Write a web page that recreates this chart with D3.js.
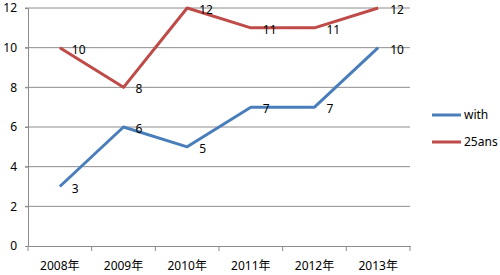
<!DOCTYPE html>
<html>
<head>
<meta charset="utf-8">
<title>line chart</title>
<script src="https://cdn.jsdelivr.net/npm/d3@7"></script>
<style>
  body { margin: 0; background: #fff; }
  text { font-family: "Noto Sans", "Noto Sans CJK SC", sans-serif; font-size: 12px; fill: #000; }
</style>
</head>
<body>
<script>
var years = ["2008年", "2009年", "2010年", "2011年", "2012年", "2013年"];
var withVals = [3, 6, 5, 7, 7, 10];
var ansVals = [10, 8, 12, 11, 11, 12];
var yTicks = [0, 2, 4, 6, 8, 10, 12];
var seriesNames = ["with", "25ans"];
var colors = ["#4a7ebb", "#be4b48"];

var width = 500, height = 275;
var padding = {left: 28, right: 90, top: 8, bottom: 29};

var svg = d3.select("body").append("svg")
  .attr("width", width)
  .attr("height", height);

var x = d3.scaleBand()
  .domain(years)
  .range([padding.left, width - padding.right]);

var y = d3.scaleLinear()
  .domain([0, 12])
  .range([height - padding.bottom, padding.top]);

// grid
svg.append("g")
  .selectAll("line")
  .data(yTicks.slice(1))
  .enter().append("line")
  .attr("x1", padding.left - 3)
  .attr("x2", width - padding.right)
  .attr("y1", function(d) { return y(d); })
  .attr("y2", function(d) { return y(d); })
  .attr("stroke", "#8c8c8c")
  .attr("stroke-width", 1);

// y axis
var yAxis = svg.append("g")
  .attr("transform", "translate(" + padding.left + ",0)")
  .call(d3.axisLeft(y).tickValues(yTicks).tickSize(3).tickPadding(8));
yAxis.select(".domain").attr("stroke", "#8c8c8c");
yAxis.selectAll(".tick line").attr("stroke", "#8c8c8c");
yAxis.selectAll("text").style("font-size", "12px");

// x axis
var xAxis = svg.append("g")
  .attr("transform", "translate(0," + y(0) + ")")
  .call(d3.axisBottom(x).tickSize(0).tickPadding(15));
xAxis.select(".domain").attr("stroke", "#8c8c8c");
xAxis.selectAll("text").style("font-size", "12px");

// tick marks between categories
var bounds = [padding.left].concat(years.map(function(d) { return x(d) + x.bandwidth(); }));
svg.append("g").selectAll("line")
  .data(bounds)
  .enter().append("line")
  .attr("x1", function(d) { return d; })
  .attr("x2", function(d) { return d; })
  .attr("y1", y(0))
  .attr("y2", y(0) + 5)
  .attr("stroke", "#8c8c8c");

var line = d3.line()
  .x(function(d, i) { return x(years[i]) + x.bandwidth() / 2; })
  .y(function(d) { return y(d); });

[withVals, ansVals].forEach(function(vals, k) {
  svg.append("path")
    .attr("d", line(vals))
    .attr("fill", "none")
    .attr("stroke", colors[k])
    .attr("stroke-width", 3)
    .attr("stroke-linejoin", "round");

  svg.append("g").selectAll("text")
    .data(vals)
    .enter().append("text")
    .attr("x", function(d, i) { return x(years[i]) + x.bandwidth() / 2 + 12; })
    .attr("y", function(d) { return y(d) + 6; })
    .text(function(d) { return d; });
});

// legend
var legend = svg.append("g")
  .selectAll("g")
  .data(seriesNames)
  .enter().append("g")
  .attr("transform", function(d, i) { return "translate(432," + (115 + i * 27) + ")"; });

legend.append("line")
  .attr("x1", 0).attr("x2", 29)
  .attr("stroke", function(d, i) { return colors[i]; })
  .attr("stroke-width", 3);

legend.append("text")
  .attr("x", 32)
  .attr("y", 4)
  .text(function(d) { return d; });
</script>
</body>
</html>
